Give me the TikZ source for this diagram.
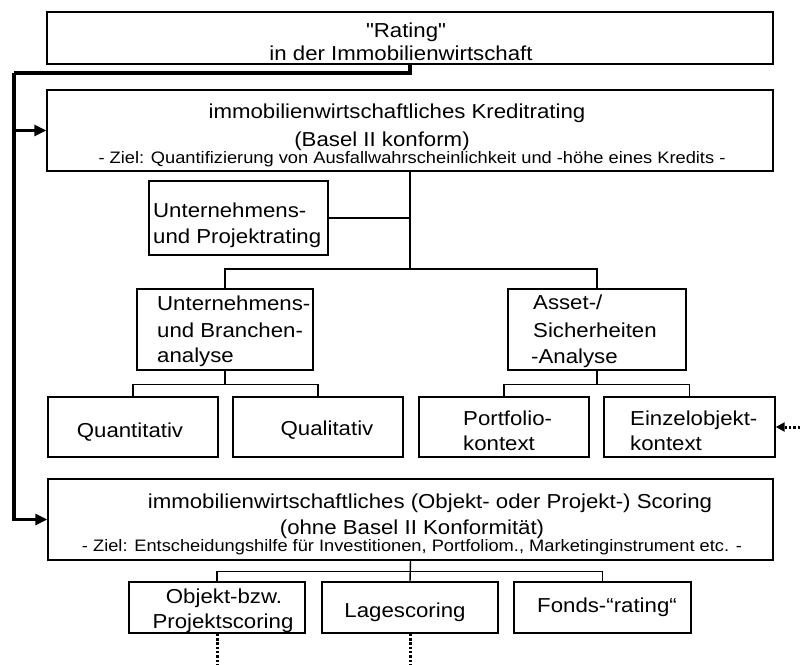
\documentclass[tikz,border=0pt]{standalone}
\usepackage{fontspec}
\setmainfont[FakeStretch=1.1, Ligatures=TeXOff]{Liberation Sans}
\usetikzlibrary{arrows.meta}
\tikzset{
  box/.style={draw=black, line width=1.4pt, inner sep=0pt, fill=white},
  big/.style={font=\fontsize{20.2}{22}\selectfont, inner sep=0pt},
  small/.style={font=\fontsize{16.6}{18}\selectfont, inner sep=0pt},
  conn/.style={draw=black, line width=1.4pt},
  thickline/.style={draw=black, line width=3.6pt},
  dotline/.style={draw=black, line width=3pt, dash pattern=on 2.5pt off 1.8pt},
  bigtip/.style={-{Triangle[length=12pt,width=11pt]}},
  dottip/.style={-{Triangle[length=9pt,width=9pt]}}
}
\begin{document}
\begin{tikzpicture}[x=1pt,y=-1pt]
\useasboundingbox (0,0) rectangle (800,664);
% boxes
\node[box, minimum width=726pt, minimum height=52pt] (top) at (410,38) {};
\node[box, minimum width=726pt, minimum height=81pt] (kredit) at (410,130.5) {};
\node[box, minimum width=179pt, minimum height=74pt] (proj) at (238.5,218) {};
\node[box, minimum width=176pt, minimum height=81pt] (ua) at (225,329.5) {};
\node[box, minimum width=178pt, minimum height=81pt] (asset) at (597,329.5) {};
\node[box, minimum width=170pt, minimum height=60pt] (quant) at (133,427) {};
\node[box, minimum width=170pt, minimum height=60pt] (qual) at (318,427) {};
\node[box, minimum width=170pt, minimum height=60pt] (port) at (504,427) {};
\node[box, minimum width=171pt, minimum height=60pt] (einzel) at (689.5,427) {};
\node[box, minimum width=725pt, minimum height=81pt] (scoring) at (410.5,519.5) {};
\node[box, minimum width=176pt, minimum height=51pt] (objekt) at (217,607.5) {};
\node[box, minimum width=176pt, minimum height=51pt] (lage) at (410,607.5) {};
\node[box, minimum width=177pt, minimum height=51pt] (fonds) at (602.5,607.5) {};
% texts
\node[big, anchor=base] (t1a) at (406,37) {"Rating"};
\node[big, anchor=base] (t1b) at (401,60) {in der Immobilienwirtschaft};
\node[big, anchor=base] (t2a) at (397,118) {immobilienwirtschaftliches Kreditrating};
\node[big, anchor=base] (t2b) at (382,146) {(Basel II konform)};
\node[small, anchor=base] (t2c) at (412,163.5) {- Ziel: Quantifizierung von Ausfallwahrscheinlichkeit und -höhe eines Kredits -};
\node[big, anchor=base west] (t3a) at (153,217) {Unternehmens-};
\node[big, anchor=base west] (t3b) at (153,243) {und Projektrating};
\node[big, anchor=base west] (t4a) at (157,310) {Unternehmens-};
\node[big, anchor=base west] (t4b) at (157,337) {und Branchen-};
\node[big, anchor=base west] (t4c) at (157,362) {analyse};
\node[big, anchor=base west] (t5a) at (533,309) {Asset-/};
\node[big, anchor=base west] (t5b) at (533,337) {Sicherheiten};
\node[big, anchor=base west] (t5c) at (531,363) {-Analyse};
\node[big, anchor=base] (t6) at (130,437) {Quantitativ};
\node[big, anchor=base] (t7) at (327,435) {Qualitativ};
\node[big, anchor=base west] (t8a) at (463,425) {Portfolio-};
\node[big, anchor=base west] (t8b) at (463,450) {kontext};
\node[big, anchor=base west] (t9a) at (630,425) {Einzelobjekt-};
\node[big, anchor=base west] (t9b) at (630,450) {kontext};
\node[big, anchor=base] (t10a) at (430,508) {immobilienwirtschaftliches (Objekt- oder Projekt-) Scoring};
\node[big, anchor=base] (t10b) at (412,534) {(ohne Basel II Konformität)};
\node[small, anchor=base] (t10c) at (412,551.5) {- Ziel: Entscheidungshilfe für Investitionen, Portfoliom., Marketinginstrument etc. -};
\node[big, anchor=base] (t11a) at (224,603) {Objekt-bzw.};
\node[big, anchor=base] (t11b) at (223,628) {Projektscoring};
\node[big, anchor=base] (t12) at (405,617) {Lagescoring};
\node[big, anchor=base] (t13) at (607,612) {Fonds-“rating“};
% thick feedback connector
\coordinate (j) at (14,73);
\draw[thickline] (top.south) |- (j);
\draw[thickline, bigtip] (j) |- (scoring.west);
\draw[thickline, bigtip] (j |- kredit.west) -- (kredit.west);
% Kredit tree
\coordinate (k1) at (410,269);
\draw[conn] (kredit.south) -- (k1);
\draw[conn] (proj.east) -- (proj.east -| k1);
\draw[conn] (ua.north) |- (k1) -| (asset.north);
\coordinate (uab) at ([yshift=-14pt]ua.south);
\draw[conn] (ua.south) -- (uab);
\draw[conn] (quant.north) |- (uab) -| (qual.north);
\coordinate (asb) at ([yshift=-14pt]asset.south);
\draw[conn] (asset.south) -- (asb);
\draw[conn] (port.north) |- (asb) -| (einzel.north);
% Scoring tree
\coordinate (sb) at ([yshift=-11pt]scoring.south);
\draw[conn] (scoring.south) -- (lage.north);
\draw[conn] (objekt.north) |- (sb) -| (fonds.north);
% dotted connectors
\coordinate (ein) at (800,427);
\draw[dotline, dottip] (ein) -- (einzel.east);
\coordinate (oend) at (217,664);
\coordinate (lend) at (410,664);
\draw[dotline] (objekt.south) -- (oend);
\draw[dotline] (lage.south) -- (lend);
\end{tikzpicture}
\end{document}
